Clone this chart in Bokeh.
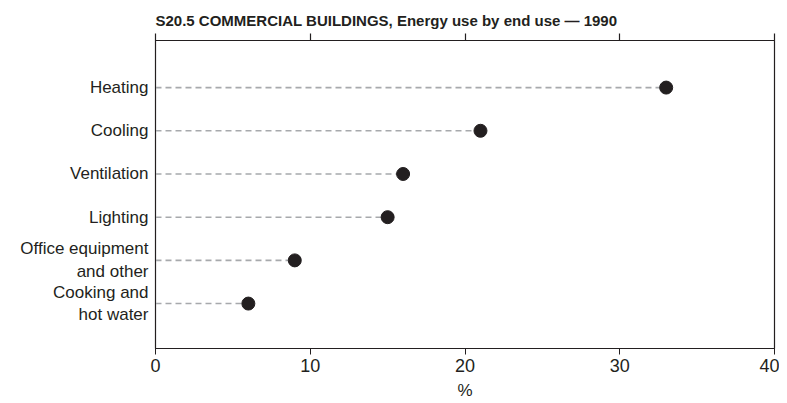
from bokeh.plotting import figure
from bokeh.models import LinearAxis, Range1d, FixedTicker, Title, ColumnDataSource
from bokeh.embed import file_html
from bokeh.resources import INLINE

categories = ["Heating", "Cooling", "Ventilation", "Lighting",
              "Office equipment\nand other", "Cooking and\nhot water"]
positions = [6, 5, 4, 3, 2, 1]
values = [33, 21, 16, 15, 9, 6]
x_ticks = [0, 10, 20, 30, 40]

FONT = "Liberation Sans"
INK = "#231f20"

p = figure(output_backend="svg", toolbar_location=None,
           frame_width=619, frame_height=308,
           x_range=Range1d(0, 40), y_range=Range1d(-0.04, 7.09),
           min_border_left=155, min_border_right=5, min_border_top=40,
           min_border_bottom=0, x_axis_label="%")

p.title = Title(text="S20.5   COMMERCIAL BUILDINGS, Energy use by end use \u2014 1990",
                text_font=FONT, text_font_size="15px", text_font_style="bold",
                text_color=INK, offset=0, standoff=9)

p.grid.visible = False
p.outline_line_color = INK
p.outline_line_width = 1.2
p.background_fill_color = "white"
p.border_fill_color = "white"

src = ColumnDataSource(dict(y=positions, x=values, x0=[0] * len(values)))
p.segment(x0="x0", y0="y", x1="x", y1="y", source=src,
          line_color="#a7a9ac", line_width=1.6, line_dash="6 4")
p.scatter(x="x", y="y", source=src, size=13, fill_color=INK, line_color=INK)

xa = p.xaxis[0]
xa.ticker = FixedTicker(ticks=x_ticks)
xa.minor_tick_line_color = None
xa.major_tick_in = 0
xa.major_tick_out = 6
xa.axis_line_color = INK
xa.major_tick_line_color = INK
xa.major_label_text_font = FONT
xa.major_label_text_font_size = "18px"
xa.major_label_text_color = INK
xa.major_label_standoff = 4
xa.axis_label_text_font = FONT
xa.axis_label_text_font_size = "17px"
xa.axis_label_text_font_style = "normal"
xa.axis_label_text_color = INK
xa.axis_label_standoff = 6

ya = p.yaxis[0]
ya.ticker = FixedTicker(ticks=positions)
ya.major_label_overrides = {pos: lab for pos, lab in zip(positions, categories)}
ya.minor_tick_line_color = None
ya.major_tick_in = 0
ya.major_tick_out = 0
ya.axis_line_color = INK
ya.major_label_text_font = FONT
ya.major_label_text_font_size = "17px"
ya.major_label_text_color = INK
ya.major_label_standoff = 7

top = LinearAxis(ticker=FixedTicker(ticks=x_ticks),
                 major_label_overrides={t: "" for t in x_ticks},
                 major_label_standoff=0,
                 major_tick_in=0, major_tick_out=7, minor_tick_line_color=None,
                 axis_line_color=INK, major_tick_line_color=INK,
                 major_tick_line_width=1.2)
p.add_layout(top, "above")

open("out.html", "w").write(file_html(p, INLINE))
